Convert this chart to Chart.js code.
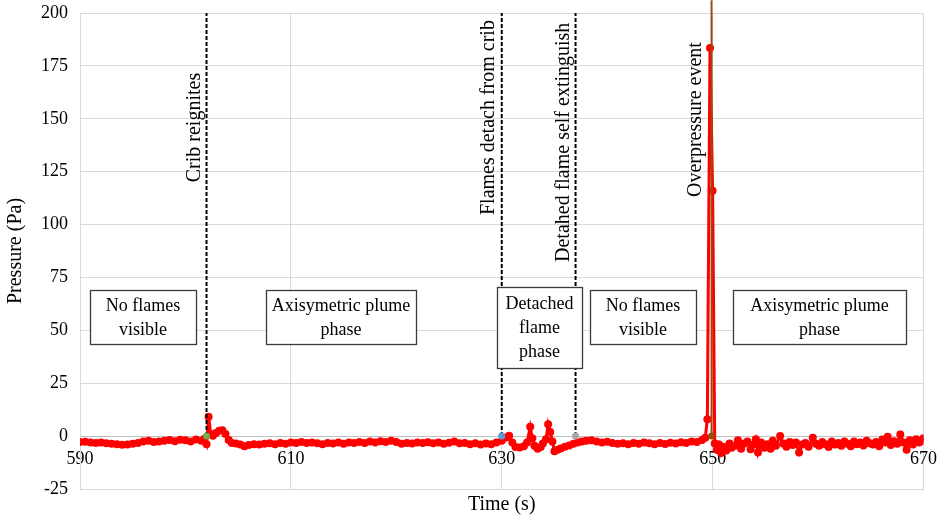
<!DOCTYPE html>
<html>
<head>
<meta charset="utf-8">
<script src="https://cdn.jsdelivr.net/npm/chart.js@4"></script>
<style>
    html, body { margin: 0; padding: 0; background: #fff; }
</style>
</head>
<body>
<canvas id="chart" width="941" height="517"></canvas>
<script>
// ── Data ────────────────────────────────────────────────────────────────────

const TIME_S = [
    590, 590.5, 591, 591.5, 592, 592.5, 593, 593.5, 594, 594.5,
    595, 595.5, 596, 596.5, 597, 597.5, 598, 598.5, 599, 599.5,
    600, 600.5, 601, 601.5, 601.8, 602, 602.2, 602.4, 602.6, 602.9,
    603.2, 603.5, 603.8, 604.1, 604.4, 604.8, 605.2, 605.6, 606, 606.5,
    607, 607.5, 608, 608.5, 609, 609.5, 610, 610.5, 611, 611.5,
    612, 612.5, 613, 613.5, 614, 614.5, 615, 615.5, 616, 616.5,
    617, 617.5, 618, 618.5, 619, 619.5, 620, 620.5, 621, 621.5,
    622, 622.5, 623, 623.5, 624, 624.5, 625, 625.5, 626, 626.5,
    627, 627.5, 628, 628.5, 629, 629.5, 630, 630.4, 630.7, 631,
    631.3, 631.7, 632.1, 632.4, 632.7, 632.9, 633.1, 633.4, 633.7, 633.9,
    634.2, 634.4, 634.6, 634.8, 635, 635.3, 635.6, 636, 636.4, 636.8,
    637.2, 637.6, 638, 638.5, 639, 639.5, 640, 640.5, 641, 641.5,
    642, 642.5, 643, 643.5, 644, 644.5, 645, 645.5, 646, 646.5,
    647, 647.5, 648, 648.5, 649, 649.3, 649.5, 649.75, 650, 650.2,
    650.4, 650.6, 650.8, 651, 651.3, 651.6, 651.8, 652.1, 652.4, 652.7,
    653, 653.3, 653.6, 653.9, 654.1, 654.3, 654.6, 654.9, 655.2, 655.5,
    655.7, 656, 656.4, 656.7, 657, 657.3, 657.6, 657.9, 658.2, 658.5,
    658.8, 659.1, 659.5, 659.8, 660.1, 660.4, 660.7, 661, 661.3, 661.6,
    661.9, 662.2, 662.5, 662.8, 663.1, 663.4, 663.7, 664, 664.3, 664.6,
    664.9, 665.2, 665.5, 665.8, 666.1, 666.4, 666.6, 666.9, 667.2, 667.5,
    667.8, 668.1, 668.4, 668.7, 669, 669.3, 669.6, 669.8, 670,
];

const PRESSURE_PA = [
    -2.8, -2.7, -3.0, -3.2, -3.0, -3.4, -3.6, -3.9, -4.1, -4.0,
    -3.6, -3.3, -2.6, -2.2, -2.8, -2.5, -2.2, -1.8, -2.4, -1.7,
    -2.0, -2.6, -1.6, -2.2, -1.2, -3.8, 9.2, 1.0, 0.2, 1.5,
    2.5, 2.8, 1.0, -1.8, -3.2, -3.5, -4.0, -4.8, -4.2, -3.8,
    -4.0, -3.6, -3.4, -3.8, -3.2, -3.6, -3.0, -3.3, -2.8, -3.2,
    -3.0, -3.4, -3.8, -3.2, -3.5, -3.0, -3.6, -3.0, -3.3, -2.8,
    -3.2, -2.6, -3.0, -2.4, -2.8, -2.2, -2.8, -3.6, -3.2, -3.5,
    -3.0, -3.3, -2.9, -3.4, -3.0, -3.6, -3.1, -2.6, -3.4, -3.2,
    -3.9, -3.4, -4.0, -3.5, -3.8, -3.0, -2.2, -0.6, 0.2, -3.0,
    -5.2, -5.4, -4.8, -3.0, 4.4, -1.0, -4.5, -6.0, -5.2, -3.5,
    -1.5, 5.6, 2.0, -2.6, -7.2, -6.5, -5.8, -5.0, -4.4, -3.6,
    -3.0, -2.6, -2.2, -2.0, -2.6, -3.0, -2.7, -3.2, -3.6, -3.4,
    -3.8, -3.2, -3.6, -3.0, -3.4, -3.8, -3.3, -3.7, -3.1, -3.5,
    -2.9, -3.3, -2.6, -2.8, -1.8, -0.8, 8.0, 183.5, 116.0, -3.5,
    -6.5, -4.0, -8.0, -5.0, -6.8, -3.5, -5.5, -4.5, -2.0, -6.0,
    -3.5, -2.5, -6.2, -4.0, -1.5, -7.8, -3.0, -5.5, -3.8, -6.0,
    -2.2, -4.5, 0.0, -3.5, -5.0, -2.8, -4.2, -3.0, -7.8, -4.0,
    -3.2, -5.0, -0.8, -3.6, -4.6, -2.8, -3.8, -5.2, -2.6, -4.0,
    -3.2, -4.6, -2.5, -3.6, -4.8, -2.6, -3.8, -3.0, -4.4, -2.2,
    -3.4, -4.0, -2.8, -4.8, -1.6, -3.0, -0.3, -4.2, -2.4, -3.6,
    0.8, -3.0, -6.4, -2.0, -4.0, -1.5, -3.0, -2.2, -1.0,
];

// event markers (vertical lines from 0 up to the top of the plot)
const EVENT_TIMES = [602, 630, 637, 649.9];
const EVENT_LABELS = [
    'Crib reignites',
    'Flames detach from crib',
    'Detahed flame self extinguish',
    'Overpressure event',
];
const EVENT_TOPS = [200, 200, 200, 206];
// pressure level where each rotated label starts
const EVENT_LABEL_AT = [120, 104.5, 82.3, 113];

const PHASE_LABELS = [
    ['No flames', 'visible'],
    ['Axisymetric plume', 'phase'],
    ['Detached', 'flame', 'phase'],
    ['No flames', 'visible'],
    ['Axisymetric plume', 'phase'],
];

const X_MIN = 590, X_MAX = 670, X_STEP = 20;
const Y_MIN = -25, Y_MAX = 200, Y_STEP = 25;

// ── Styling ──────────────────────────────────────────────────────────────────

const SERIF = '"Liberation Serif", "Times New Roman", serif';
const GRID = '#d9d9d9';
const EVENT_LINE_COLORS = ['#000', '#000', '#000', '#9e480e'];
const EVENT_DOT_COLORS = ['#70ad47', '#5b9bd5', '#a5a5a5', '#9e480e'];
const LABEL_GAP = [7, 8, 7, 11];           // px from the line to the text baseline
const PHASE_BOXES = [                        // left, top, width, height (px)
    [90, 290, 106, 54],
    [266, 290, 150, 54],
    [497, 287, 85, 81],
    [590, 290, 106, 54],
    [733, 290, 173, 54],
];

// ── Annotation plugin (event labels + phase boxes) ──────────────────────────

const annotations = {
    id: 'annotations',
    afterDraw(chart) {
        const { ctx } = chart;
        const x = chart.scales.x;
        const y = chart.scales.y;

        ctx.save();
        ctx.fillStyle = '#000';
        ctx.font = `20px ${SERIF}`;
        ctx.textAlign = 'left';
        ctx.textBaseline = 'alphabetic';
        EVENT_TIMES.forEach((t, i) => {
            ctx.save();
            ctx.translate(x.getPixelForValue(t) - LABEL_GAP[i], y.getPixelForValue(EVENT_LABEL_AT[i]));
            ctx.rotate(-Math.PI / 2);
            ctx.fillText(EVENT_LABELS[i], 0, 0);
            ctx.restore();
        });

        ctx.font = `18px ${SERIF}`;
        ctx.textAlign = 'center';
        ctx.textBaseline = 'middle';
        PHASE_BOXES.forEach(([l, t, w, h], i) => {
            ctx.fillStyle = '#fff';
            ctx.fillRect(l, t, w, h);
            ctx.strokeStyle = '#3a3a3a';
            ctx.lineWidth = 1.3;
            ctx.strokeRect(l + 0.5, t + 0.5, w, h);
            ctx.fillStyle = '#000';
            const lines = PHASE_LABELS[i];
            const lh = 24;
            const y0 = t + h / 2 - (lines.length - 1) * lh / 2 + 1;
            lines.forEach((s, j) => ctx.fillText(s, l + w / 2, y0 + j * lh));
        });
        ctx.restore();
    },
};

// ── Datasets ─────────────────────────────────────────────────────────────────

const pressureSeries = {
    label: 'Pressure',
    data: TIME_S.map((t, i) => ({ x: t, y: PRESSURE_PA[i] })),
    borderColor: '#ff0000',
    backgroundColor: '#ff0000',
    borderWidth: 3,
    pointRadius: 4,
    pointBorderWidth: 0,
    pointBackgroundColor: '#ff0000',
    tension: 0,
    order: 2,
};

const eventSeries = EVENT_TIMES.map((t, i) => ({
    label: EVENT_LABELS[i],
    data: [{ x: t, y: 0 }, { x: t, y: EVENT_TOPS[i] }],
    borderColor: EVENT_LINE_COLORS[i],
    borderWidth: 2,
    borderDash: i < 3 ? [4, 2] : [],
    pointRadius: [3.5, 0],
    pointBorderWidth: 0,
    pointBackgroundColor: EVENT_DOT_COLORS[i],
    clip: { left: 0, top: 14, right: 0, bottom: 0 },
    order: 1,
}));

// ── Chart ────────────────────────────────────────────────────────────────────

new Chart(document.getElementById('chart'), {
    type: 'line',
    data: { datasets: [pressureSeries, ...eventSeries] },
    options: {
        responsive: false,
        animation: false,
        events: [],
        layout: { padding: { top: 13, right: 15, bottom: 0, left: 0 } },
        plugins: { legend: { display: false }, tooltip: { enabled: false } },
        scales: {
            x: {
                type: 'linear',
                position: 'bottom',
                min: X_MIN,
                max: X_MAX,
                ticks: { display: false, stepSize: X_STEP },
                grid: { color: GRID, drawTicks: false },
                border: { color: GRID },
                title: {
                    display: true,
                    text: 'Time (s)',
                    color: '#000',
                    font: { family: SERIF, size: 20 },
                    padding: { top: 0, bottom: 0 },
                },
                afterFit: (s) => { s.height = 28; },
            },
            // second x axis sitting on y = 0, carries the tick labels
            x0: {
                type: 'linear',
                position: { y: 0 },
                min: X_MIN,
                max: X_MAX,
                ticks: {
                    stepSize: X_STEP,
                    color: '#000',
                    padding: 4,
                    font: { family: SERIF, size: 18 },
                },
                grid: { display: false },
                border: { color: '#bfbfbf', width: 1 },
                afterFit: (s) => { s.height = 0; },
            },
            y: {
                min: Y_MIN,
                max: Y_MAX,
                ticks: {
                    stepSize: Y_STEP,
                    color: '#000',
                    padding: 12,
                    font: { family: SERIF, size: 18 },
                },
                grid: { color: GRID, drawTicks: false },
                border: { color: GRID },
                title: {
                    display: true,
                    text: 'Pressure (Pa)',
                    color: '#000',
                    font: { family: SERIF, size: 20 },
                    padding: { top: 4, bottom: 0 },
                },
                afterFit: (s) => {
                    s.width = 80;
                    s.paddingTop = 0;
                    s.paddingBottom = 0;
                },
            },
        },
    },
    plugins: [annotations],
});
</script>
</body>
</html>
